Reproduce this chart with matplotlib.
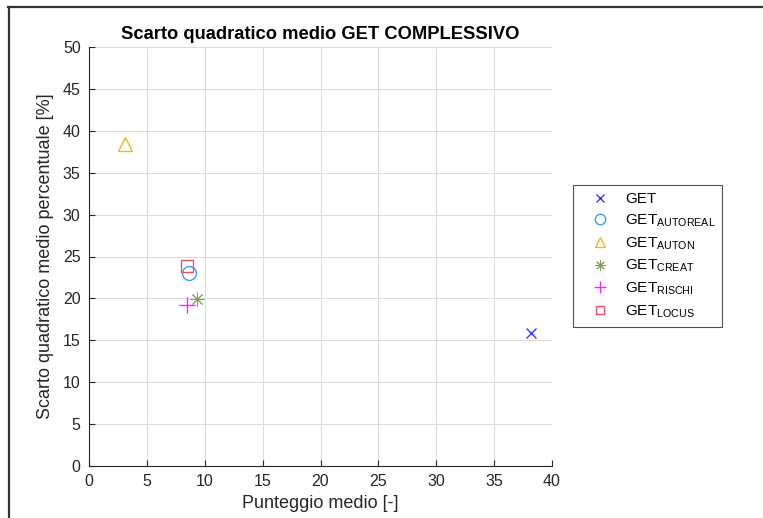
import matplotlib
matplotlib.use("Agg")
import matplotlib.pyplot as plt
from matplotlib.lines import Line2D

plt.rcParams['font.family'] = ['Liberation Sans', 'DejaVu Sans']
plt.rcParams['mathtext.fontset'] = 'custom'
plt.rcParams['mathtext.rm'] = 'Liberation Sans'
plt.rcParams['mathtext.it'] = 'Liberation Sans'

# data
labels = ['GET', 'GET$_{\\mathrm{AUTOREAL}}$', 'GET$_{\\mathrm{AUTON}}$',
          'GET$_{\\mathrm{CREAT}}$', 'GET$_{\\mathrm{RISCHI}}$', 'GET$_{\\mathrm{LOCUS}}$']
punteggio = [38.2, 8.6, 3.1, 9.3, 8.5, 8.5]
scarto = [15.9, 23.0, 38.4, 19.9, 19.2, 23.9]

markers = ['x', 'o', '^', (8, 2, 0), '+', 's']
colors = ['#3a3aff', '#3d9bff', '#f0b820', '#78a050', '#ff20ff', '#e8506a']
sizes = [7.5, 10, 10, 10, 12, 8]
widths = [1.0, 1.0, 1.0, 0.7, 1.0, 1.0]

fig = plt.figure(figsize=(7.63, 5.18), dpi=100)
ax = fig.add_axes([89/763, 1 - 466/518, (552 - 89)/763, (466 - 47)/518])

for i in range(len(labels)):
    ax.plot(punteggio[i], scarto[i], linestyle='none', marker=markers[i],
            markersize=sizes[i], markerfacecolor='none', markeredgecolor=colors[i],
            markeredgewidth=widths[i], label=labels[i])

ax.set_xlim(0, 40)
ax.set_ylim(0, 50)
ax.set_xticks(range(0, 41, 5))
ax.set_yticks(range(0, 51, 5))
ax.grid(True, color='#dcdcdc', linewidth=0.8)
ax.set_axisbelow(True)
for s in ['top', 'right']:
    ax.spines[s].set_visible(False)
for s in ['left', 'bottom']:
    ax.spines[s].set_color('#262626')
    ax.spines[s].set_linewidth(0.8)
ax.tick_params(direction='in', length=4, colors='#262626', labelsize=11.5, pad=6)

ax.set_title('Scarto quadratico medio GET COMPLESSIVO', fontsize=13.2, fontweight='bold', pad=6)
ax.set_xlabel('Punteggio medio [-]', fontsize=13, color='#262626', labelpad=4)
ax.set_ylabel('Scarto quadratico medio percentuale [%]', fontsize=13, color='#262626', labelpad=6)

leg = fig.legend(loc='upper left', bbox_to_anchor=(573/763, 1 - 185/518),
                 bbox_transform=fig.transFigure, fontsize=11, frameon=True,
                 fancybox=False, edgecolor='#262626', borderpad=0.45,
                 labelspacing=0.42, handletextpad=0.32, handlelength=2.63,
                 borderaxespad=0)
leg.get_frame().set_linewidth(0.8)
for h in leg.legend_handles:
    h.set_markersize(h.get_markersize() * 0.75)

# outer frame seen at the top and left of the picture
fig.add_artist(Line2D([8/763, 1], [1 - 7/518, 1 - 7/518], transform=fig.transFigure,
                      color='#333333', linewidth=1.6))
fig.add_artist(Line2D([9/763, 9/763], [0, 1 - 7/518], transform=fig.transFigure,
                      color='#333333', linewidth=1.6))

fig.savefig('out.png', dpi=100)
